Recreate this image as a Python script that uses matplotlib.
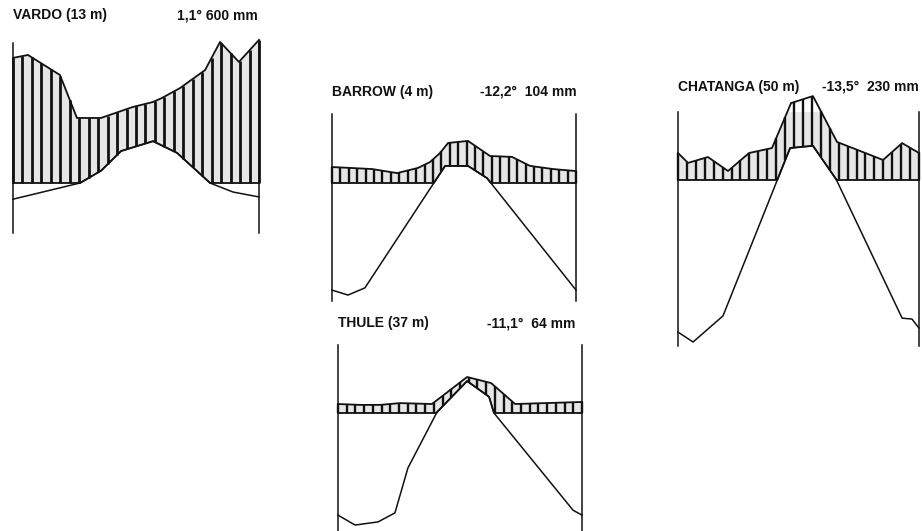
import numpy as np
import matplotlib
matplotlib.use('Agg')
import matplotlib.pyplot as plt

# climate diagrams (Walter-Lieth style): 10 C = 20 mm
# positions along the year in months (0..12), temperature in C, precipitation in mm

vardo_p_month = [0, 0.73, 2.29, 3.12, 4.29, 5.85, 6.83, 7.27, 8.15, 9.37, 10.10, 11.02, 12]
vardo_p_mm = [55.6, 56.9, 48.0, 28.9, 28.9, 33.8, 36.0, 37.8, 42.2, 50.2, 62.7, 53.8, 63.6]
vardo_t_month = [0, 3.27, 4.29, 5.27, 6.83, 8.0, 9.61, 10.73, 12]
vardo_t_c = [-3.6, 0.0, 2.7, 7.1, 9.3, 6.7, 0.0, -2.0, -3.1]

barrow_p_month = [0, 0.89, 1.97, 3.20, 4.23, 4.82, 5.31, 5.71, 6.69, 7.77, 8.85, 9.74, 10.87, 12]
barrow_p_mm = [7.1, 6.7, 6.2, 4.4, 6.7, 9.3, 13.3, 17.8, 18.7, 12.0, 11.6, 7.6, 6.2, 5.3]
barrow_t_month = [0, 0.79, 1.62, 5.56, 6.69, 7.62, 12]
barrow_t_c = [-23.8, -24.9, -23.3, 3.8, 3.8, 1.1, -23.8]

thule_p_month = [0, 1.08, 2.07, 3.05, 4.62, 6.35, 7.53, 8.71, 12]
thule_p_mm = [4.0, 3.6, 3.6, 4.4, 4.0, 16.0, 13.3, 4.0, 4.9]
thule_t_month = [0, 0.84, 1.97, 2.80, 3.44, 4.87, 6.35, 7.43, 7.67, 11.56, 12]
thule_t_c = [-22.7, -24.9, -24.2, -22.2, -12.2, 0.2, 7.1, 3.6, 0.0, -21.6, -22.7]

chat_p_month = [0, 0.50, 1.49, 2.49, 3.54, 4.68, 5.63, 6.72, 7.92, 8.81, 10.21, 11.16, 12]
chat_p_mm = [12.0, 7.6, 10.2, 4.0, 12.0, 14.2, 34.2, 37.3, 16.9, 13.8, 8.9, 16.4, 12.0]
chat_t_month = [0, 0.75, 2.24, 5.58, 6.72, 7.87, 11.16, 11.65, 12]
chat_t_c = [-33.8, -36.0, -30.2, 7.1, 7.6, 0.2, -30.7, -30.9, -32.9]

names = ['VARDO (13 m)', 'BARROW (4 m)', 'THULE (37 m)', 'CHATANGA (50 m)']
infos = ['1,1\u00b0 600 mm', '-12,2\u00b0  104 mm', '-11,1\u00b0  64 mm', '-13,5\u00b0  230 mm']

W, H = 922, 531
s = 4.5  # pixels per degree

# panel boxes in pixels: left, top, right, bottom, zero line, title y, info right edge, stripes, stripe width
boxes = [(13, 43, 259, 233, 183, 15, 258, 26, 2.0),
         (332, 114, 576, 301, 183, 92, 577, 29, 1.7),
         (338, 345, 582, 531, 413, 323, 575, 28, 1.7),
         (678, 112, 919, 346, 180, 87, 919, 27, 1.7)]

data = [(vardo_p_month, vardo_p_mm, vardo_t_month, vardo_t_c),
        (barrow_p_month, barrow_p_mm, barrow_t_month, barrow_t_c),
        (thule_p_month, thule_p_mm, thule_t_month, thule_t_c),
        (chat_p_month, chat_p_mm, chat_t_month, chat_t_c)]

fig = plt.figure(figsize=(W / 100, H / 100), dpi=100)

for i in range(4):
    L, T, R, B, Z, ty, ir, n, sw = boxes[i]
    pm, pmm, tm, tc = data[i]
    ax = fig.add_axes([L / W, 1 - B / H, (R - L) / W, (B - T) / H])
    ax.set_xlim(0, 12)
    ax.set_ylim(-(B - Z) / s, (Z - T) / s)

    xx = np.linspace(0, 12, 1200)
    p = np.interp(xx, pm, np.array(pmm) / 2)
    t = np.interp(xx, tm, tc)
    low = np.maximum(t, 0)
    ax.fill_between(xx, low, p, where=p > low, color='#e6e6e6', lw=0)

    # vertical hatch stripes
    xs = np.linspace(0, 12, n + 1)
    pu = np.interp(xs, pm, np.array(pmm) / 2)
    pl = np.maximum(np.interp(xs, tm, tc), 0)
    ok = pu > pl
    ax.vlines(xs[ok], pl[ok], pu[ok], color='#111111', lw=sw, clip_on=False)

    ax.plot(xx, low, color='#111111', lw=1.3, clip_on=False)
    ax.plot(pm, np.array(pmm) / 2, color='#111111', lw=1.3, clip_on=False)
    ax.plot(tm, tc, color='#111111', lw=1.1, clip_on=False)

    for side in ['top', 'bottom']:
        ax.spines[side].set_visible(False)
    for side in ['left', 'right']:
        ax.spines[side].set_linewidth(1.1)
        ax.spines[side].set_color('#111111')
    ax.set_xticks([])
    ax.set_yticks([])
    ax.patch.set_alpha(0)

    fig.text(L / W, 1 - ty / H, names[i], ha='left', va='center',
             fontsize=10, fontweight='bold', family='Liberation Sans', color='#111111')
    fig.text(ir / W, 1 - ty / H, infos[i], ha='right', va='center',
             fontsize=10, fontweight='bold', family='Liberation Sans', color='#111111')

plt.savefig('out.png', dpi=100)
